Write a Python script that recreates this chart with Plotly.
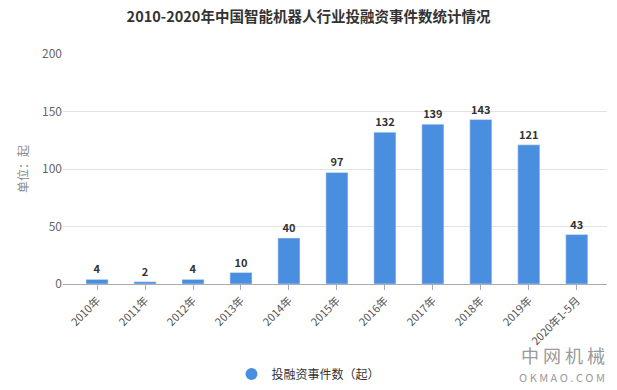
import plotly.graph_objects as go

categories = ["2010年", "2011年", "2012年", "2013年", "2014年", "2015年",
              "2016年", "2017年", "2018年", "2019年", "2020年1-5月"]
events = [4, 2, 4, 10, 40, 97, 132, 139, 143, 121, 43]
y_ticks = [0, 50, 100, 150, 200]
series_name = "投融资事件数（起）"

bar_color = "#4a8fdf"
font_fam = "Microsoft YaHei, Noto Sans CJK SC, sans-serif"

fig = go.Figure()
fig.add_trace(go.Bar(
    x=categories, y=events, marker_color=bar_color, width=0.46,
    text=[str(v) for v in events], textposition="outside",
    textfont=dict(size=11, color="#333333", family=font_fam),
    texttemplate="<b>%{text}</b>", cliponaxis=False, showlegend=False,
))
fig.add_trace(go.Scatter(
    x=[None], y=[None], mode="markers", name=series_name,
    marker=dict(symbol="circle", size=11, color=bar_color), showlegend=True,
))

fig.update_layout(
    width=617, height=390,
    margin=dict(l=63, r=10, t=54, b=106, autoexpand=False),
    paper_bgcolor="white", plot_bgcolor="white",
    font=dict(family=font_fam, color="#666666", size=12),
    title=dict(text="<b>2010-2020年中国智能机器人行业投融资事件数统计情况</b>",
               x=0.5, xanchor="center", yref="container", y=1 - 17 / 390, yanchor="middle",
               font=dict(size=14.5, color="#333333", family=font_fam)),
    bargap=0.5,
    legend=dict(orientation="h", xref="container", x=0.5, xanchor="center",
                yref="container", y=1 - 374 / 390, yanchor="middle",
                font=dict(size=12, color="#333333"), itemsizing="constant"),
    xaxis=dict(type="category", range=[-0.71, 10.63], tickangle=-45,
               showline=True, linecolor="#aaaaaa", ticks="outside", ticklen=5,
               tickcolor="#aaaaaa", tickfont=dict(size=11, color="#555555"),
               showgrid=False),
    yaxis=dict(range=[0, 200], tickvals=y_ticks, showgrid=True, gridcolor="#e3e3e3",
               zeroline=False, tickfont=dict(size=12, color="#666666"),
               ticks="", title=dict(text="单位：起", font=dict(size=12, color="#8a8a8a"),
                                    standoff=10)),
)

fig.add_annotation(text="中 网 机 械", xref="paper", yref="paper", x=1.0, y=(284 - 355) / 230,
                   xanchor="right", yanchor="middle", showarrow=False,
                   font=dict(size=18, color="#9a9a9a", family=font_fam))
fig.add_annotation(text="O K M A O . C O M", xref="paper", yref="paper", x=1.0,
                   y=(284 - 377) / 230, xanchor="right", yanchor="middle", showarrow=False,
                   font=dict(size=11, color="#9a9a9a", family=font_fam))

fig.write_html("out.html", config={"displayModeBar": False},
               post_script="document.body.style.margin='0';document.body.style.overflow='hidden';")
